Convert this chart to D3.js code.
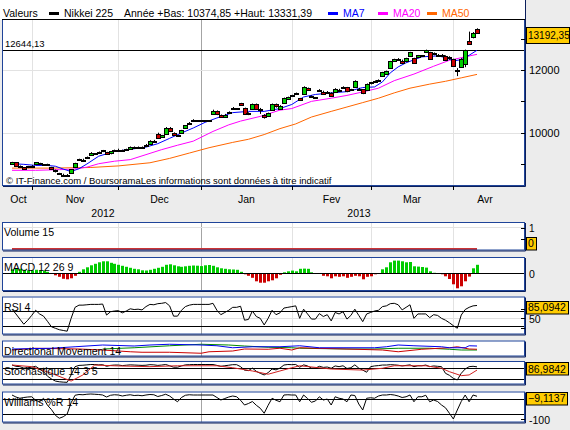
<!DOCTYPE html>
<html>
<head>
<meta charset="utf-8">
<script src="https://cdn.jsdelivr.net/npm/d3@7"></script>
<style>
  body { margin: 0; background: #ececec; }
  svg { display: block; font-family: "Liberation Sans", Arial, sans-serif; }
</style>
</head>
<body>
<svg id="chart" width="570" height="430"></svg>
<script>
// Nikkei 225 daily candles, 25 Oct 2012 -> 9 Apr 2013, one slot per weekday (holidays are flat)
var open = [8990,9050,8932,8895,8925,8930,9000,9020,8990,8990,
  8900,8800,8700,8662,8664,8700,8890,9150,9140,9220,
  9290,9366,9386,9440,9370,9330,9420,9460,9440,9450,
  9490,9540,9530,9528,9620,9650,9740,9970,9860,9970,
  10150,9990,9940,9980,10130,10320,10395,10395,10395,10395,
  10395,10604,10700,10560,10520,10650,10800,10801,10950,10780,
  10630,10760,10920,10750,10560,10520,10720,10900,10780,10950,
  11080,11190,11258,11100,11250,11420,11180,11153,11368,11300,
  11306,11280,11300,11370,11440,11450,11350,11480,11397,11380,
  11380,11560,11651,11682,11800,11880,12060,12290,12360,12300,
  12270,12440,12370,12400,12468,12580,12560,12520,12472,12492,
  12460,12420,12350,12004,12110,12180,12920,13070,13320];
var high = [9070,9060,8955,8905,8940,8965,9065,9040,9000,9010,
  8910,8820,8720,8690,8680,8840,9040,9170,9170,9240,
  9380,9366,9400,9450,9390,9410,9460,9490,9460,9490,
  9560,9560,9560,9560,9640,9760,9770,10000,9930,10180,
  10180,10010,9940,10090,10240,10340,10430,10395,10395,10395,
  10395,10734,10710,10580,10600,10680,10820,10801,10952,10800,
  10650,10930,10930,10790,10590,10640,10930,10930,10880,11120,
  11150,11210,11280,11110,11480,11440,11190,11153,11390,11340,
  11330,11290,11420,11400,11480,11460,11400,11670,11430,11390,
  11570,11620,11670,11700,11940,11980,12290,12360,12380,12330,
  12390,12580,12390,12480,12468,12650,12580,12560,12510,12510,
  12470,12440,12360,12060,12380,12650,13225,13210,13331.39];
var low = [8975,8920,8905,8810,8870,8905,8990,8985,8950,8955,
  8830,8730,8660,8620,8640,8690,8870,9110,9110,9190,
  9280,9366,9350,9380,9300,9310,9400,9440,9410,9420,
  9480,9510,9500,9510,9560,9640,9710,9820,9840,9960,
  10020,9900,9940,9970,10120,10280,10340,10395,10395,10395,
  10395,10580,10560,10490,10500,10620,10770,10801,10860,10590,
  10560,10740,10730,10600,10450,10500,10700,10800,10760,10940,
  11060,11150,11230,11030,11240,11340,11140,11153,11320,11230,
  11270,11160,11290,11340,11410,11290,11330,11470,11380,11230,
  11370,11540,11630,11640,11790,11870,12050,12270,12290,12200,
  12250,12430,12200,12380,12468,12560,12320,12470,12450,12470,
  12320,12330,12120,11805,12080,12090,12800,13010,13170];
var close = [9055,8933,8932,8820,8928,8946,9051,9007,8975,8972,
  8837,8757,8676,8661,8664,8830,9024,9153,9142,9222,
  9366,9366,9388,9423,9308,9400,9446,9458,9432,9468,
  9545,9527,9533,9525,9581,9743,9737,9828,9923,10160,
  10040,9940,9940,10080,10230,10322,10395,10395,10395,10395,
  10395,10688,10599,10508,10578,10652,10801,10801,10879,10600,
  10609,10913,10747,10709,10486,10620,10926,10824,10866,11113,
  11138,11191,11260,11046,11463,11357,11153,11153,11369,11251,
  11307,11173,11407,11372,11468,11309,11385,11662,11398,11254,
  11559,11606,11652,11683,11932,11968,12283,12349,12314,12239,
  12381,12560,12220,12468,12468,12635,12338,12546,12471,12493,
  12336,12397,12135,12003,12362,12634,12833,13192,13192.35];

// moving averages at some candles (candle index -> value)
var ma7At = [0,3,6,9,11,13,15,17,19,22,26,30,34,37,40,43,46,49,52,56,60,64,68,71,74,77,81,85,89,92,94,96,98,100,104,108,110,112,114,116,118];
var ma7 = [9010,8990,8955,8955,8930,8840,8760,8850,9000,9250,9400,9470,9540,9650,9820,9990,10150,10330,10470,10640,10680,10680,10770,10900,11140,11220,11270,11310,11440,11460,11620,11910,12100,12230,12420,12450,12400,12290,12330,12470,12630];
var ma20At = [0,6,12,16,19,22,26,30,34,38,42,46,51,55,58,63,68,71,76,81,85,89,93,97,102,107,111,115,118];
var ma20 = [8800,8800,8820,8840,8900,9010,9090,9140,9300,9460,9600,9730,10040,10250,10370,10520,10720,10770,11000,11100,11190,11300,11420,11660,11870,12120,12310,12420,12500];
var ma50At = [0,10,20,27,35,40,45,50,56,60,64,68,72,76,81,85,89,93,97,101,106,110,114,118];
var ma50 = [8870,8870,8890,8940,9040,9180,9350,9520,9690,9790,9940,10130,10280,10500,10680,10820,10960,11100,11270,11420,11550,11640,11750,11860];

// indicators, one value per candle
var macdHist = [40,45,45,35,30,30,35,30,25,15,
  -5,-20,-35,-55,-60,-50,-25,15,40,60,
  80,95,110,120,120,105,95,85,75,65,
  55,45,40,30,28,35,45,55,65,85,
  90,80,70,65,70,75,78,76,72,80,
  83,75,60,50,45,40,38,35,15,-10,
  -25,-45,-80,-94,-94,-80,-70,-50,-15,10,
  20,27,20,45,47,45,10,-5,-3,-25,
  -30,-50,-30,-35,-30,-45,-35,-25,-30,-60,
  -35,-30,-10,-3,40,60,110,127,127,120,
  110,113,70,67,63,57,20,5,-3,-10,
  -30,-57,-110,-150,-130,-80,-33,50,85];
var rsi4 = [75,62,48,34,45,58,72,62,56,42,
  27,23,19,17,15,50,80,86,86,87,
  88,88,88,89,59,68,70,71,65,70,
  76,74,75,73,82,88,87,90,91,93,
  84,56,56,72,82,86,88,88,88,88,
  88,91,72,60,66,72,80,80,83,45,
  47,70,55,50,32,50,72,60,65,78,
  80,82,84,50,75,62,48,48,63,55,
  60,43,66,62,68,48,58,75,58,41,
  62,66,70,72,82,84,90,91,87,73,
  80,87,50,62,62,62,52,60,58,50,
  45,38,30,23,59,74,80,84,85.0942];
var stochK = [97,90,88,80,82,85,90,75,60,35,
  20,8,4,2,1,42,88,95,96,98,
  100,100,98,99,90,95,97,97,94,96,
  98,97,96,95,96,99,98,95,97,100,
  93,85,85,92,98,99,100,100,100,100,
  100,100,95,90,93,96,99,99,88,69,
  66,80,62,51,42,55,75,70,80,97,
  100,99,100,85,98,92,80,80,90,84,
  86,79,92,88,93,78,82,98,80,69,
  57,88,92,94,97,97,99,98,96,92,
  95,98,88,93,93,97,88,92,90,88,
  51,40,23,14,51,75,88,90,86.9842];
var stochDAt = [0,5,10,15,18,21,27,35,42,52,56,61,65,68,71,73,81,89,94,97,105,109,111,114,116,118];
var stochD = [97,88,51,8,42,97,92,88,93,93,82,64,46,64,82,93,75,69,79,93,93,79,60,38,42,69];
var williamsR = [-4,-12,-17,-14,-12,-11,-25,-31,-17,-45,
  -62,-85,-97,-91,-80,-35,-5,-2,-3,-1,
  0,-1,-2,-4,-12,-5,-3,-4,-8,-5,
  -3,-6,-5,-7,-4,-2,-3,-10,-6,-1,
  -8,-20,-31,-14,-5,-3,-4,-4,-4,-4,
  -4,-4,-14,-24,-18,-12,-8,-11,-25,-44,
  -38,-30,-45,-57,-77,-45,-17,-25,-31,-4,
  -3,-4,-4,-31,-4,-18,-33,-28,-11,-24,
  -20,-44,-11,-17,-20,-31,-4,-6,-40,-64,
  -17,-15,-17,-8,-4,-4,-2,-4,-8,-14,
  -11,-4,-31,-11,-11,-5,-31,-24,-30,-44,
  -55,-77,-100,-64,-30,-4,-31,-4,-9.1137];
var dmiPlusAt = [0,10,16,23,31,35,40,48,52,56,61,68,73,78,84,92,95,98,102,109,111,115,116,118];
var dmiPlus = [28,31,37,44,40,44,47,44,41,33,37,37,41,33,33,33,37,44,41,37,33,33,41,40];
var dmiMinusAt = [0,6,17,23,30,33,40,48,50,56,59,65,68,71,73,77,85,94,98,104,111,113,116,118];
var dmiMinus = [24,31,28,24,17,15,15,11,17,20,28,27,31,24,33,31,28,24,17,27,33,37,28,27];
var adxAt = [23,31,40,48,55,59,65,71,73,85,92,98,106,111,114,118];
var adx = [28,33,41,47,44,40,35,33,31,28,28,31,31,27,24,24];
var volumeAt = [0, 118];
var volume15 = [0, 0];

// labels
var monthLabels = ["Oct", "Nov", "Dec", "Jan", "Fev", "Mar", "Avr"];
var yearLabels = ["2012", "2013"];
var priceTicks = [9000, 10000, 11000, 12000, 13000];
var priceLabels = [10000, 12000];
var refLevel = 12644.13;
var yearLow = 10374.85, yearHigh = 13331.39;

var svg = d3.select("#chart");
var X0 = 2, X1 = 525;

var days = d3.timeDay.range(new Date(2012, 9, 25), new Date(2013, 3, 10))
  .filter(function (d) { return d.getDay() % 6 != 0; });
var last = days.length - 1;

var x = d3.scaleLinear().domain([0, last]).range([12, 477]);

function comma(v, n) { return d3.format("." + n + "f")(v).replace(".", ","); }

var months = d3.timeMonth.range(new Date(2012, 9, 1), new Date(2013, 4, 1));
function slotOf(m) { return days.findIndex(function (d) { return d >= m; }); }
function monthX(m) { return m < days[0] ? 5 : Math.round(x(slotOf(m))); }

// panel background + month grid, returns a clipped group
function panel(id, top, bottom) {
  svg.append("rect").attr("x", X0).attr("y", top).attr("width", X1 - X0).attr("height", bottom - top)
    .attr("fill", "#fff");
  svg.append("clipPath").attr("id", id).append("rect")
    .attr("x", X0 + 1).attr("y", top + 1).attr("width", X1 - X0 - 1).attr("height", bottom - top - 1);
  var g = svg.append("g").attr("clip-path", "url(#" + id + ")");
  g.selectAll(null).data(months.slice(1)).enter().append("line")
    .attr("x1", function (m) { return monthX(m) + 0.5; })
    .attr("x2", function (m) { return monthX(m) + 0.5; })
    .attr("y1", top).attr("y2", bottom)
    .attr("stroke", function (m) { return m.getMonth() == 0 ? "#a4a4a4" : "#e2e2e2"; });
  return g;
}

function frame(top, bottom) {
  svg.append("rect").attr("x", X0 + 0.5).attr("y", top + 0.5).attr("width", X1 - X0 - 1).attr("height", bottom - top - 1)
    .attr("fill", "none").attr("stroke", "#1f4499");
  svg.append("path").attr("d", "M" + (X1 + 0.5) + "," + (top + 1) + "V" + (bottom + 0.5) + "H" + (X0 + 1))
    .attr("fill", "none").attr("stroke", "#0b1f5c");
}

function hline(g, y, color) {
  g.append("line").attr("x1", X0).attr("x2", X1).attr("y1", Math.round(y) + 0.5).attr("y2", Math.round(y) + 0.5)
    .attr("stroke", color);
}

function rightTicks(scale, values) {
  svg.selectAll(null).data(values).enter().append("line")
    .attr("x1", X1 - 4).attr("x2", X1)
    .attr("y1", function (d) { return Math.round(scale(d)) + 0.5; })
    .attr("y2", function (d) { return Math.round(scale(d)) + 0.5; })
    .attr("stroke", "#000");
}

function sideText(y, txt, size) {
  svg.append("text").attr("x", 529).attr("y", y).attr("font-size", size).text(txt);
}

function valueBox(top, h, txt, size, baseline) {
  var t = svg.append("text").attr("x", 528).attr("y", baseline).attr("font-size", size).text(txt);
  var w = t.node().getComputedTextLength();
  svg.insert("rect", function () { return t.node(); })
    .attr("x", 526.5).attr("y", Math.round(top) + 0.5).attr("width", Math.min(Math.round(w) + 4, 43)).attr("height", h)
    .attr("fill", "#ffcc00").attr("stroke", "#000");
}

function panelLabel(top, txt) {
  svg.append("text").attr("x", 4).attr("y", top + 14).attr("font-size", 10.6).text(txt);
}

function seriesLine(g, scale, xs, ys, color) {
  g.append("path").datum(d3.zip(xs, ys))
    .attr("fill", "none").attr("stroke", color).attr("stroke-width", 1)
    .attr("d", d3.line().x(function (d) { return x(d[0]); }).y(function (d) { return scale(d[1]); }));
}
var idx = d3.range(days.length);

// ---------- header ----------
svg.append("rect").attr("x", 0).attr("y", 0).attr("width", X1).attr("height", 20).attr("fill", "#fff");
svg.append("line").attr("x1", X1 + 0.5).attr("x2", X1 + 0.5).attr("y1", 0).attr("y2", 20).attr("stroke", "#0b1f5c");
var head = svg.append("g").attr("font-size", 10.5);
head.append("text").attr("x", 3).attr("y", 17).text("Valeurs");
head.append("rect").attr("x", 49).attr("y", 12).attr("width", 10).attr("height", 3).attr("fill", "#000");
head.append("text").attr("x", 64).attr("y", 17).text("Nikkei 225");
head.append("text").attr("x", 124).attr("y", 17)
  .text("Année +Bas: " + comma(yearLow, 2) + " +Haut: " + comma(yearHigh, 2));
[["MA7", "#0000ff", 328], ["MA20", "#ff00ff", 378], ["MA50", "#ff6600", 427]].forEach(function (l) {
  head.append("rect").attr("x", l[2]).attr("y", 12).attr("width", 10).attr("height", 3).attr("fill", l[1]);
  head.append("text").attr("x", l[2] + 15).attr("y", 17).attr("fill", l[1]).text(l[0]);
});

// ---------- main price panel ----------
var MT = 19, MB = 186;
var y = d3.scaleLinear().domain([8500, 13500]).range([179.7, 23.0]);
var gm = panel("clipMain", MT, MB);
priceLabels.forEach(function (v) { hline(gm, y(v), "#e2e2e2"); });
hline(gm, y(refLevel), "#000");

seriesLine(gm, y, ma50At, ma50, "#ff6600");
seriesLine(gm, y, ma20At, ma20, "#ff00ff");
seriesLine(gm, y, ma7At, ma7, "#0000ff");

var candle = gm.selectAll("g.c").data(idx).enter().append("g");
candle.append("line")
  .attr("x1", function (i) { return Math.round(x(i)) + 0.5; })
  .attr("x2", function (i) { return Math.round(x(i)) + 0.5; })
  .attr("y1", function (i) { return y(high[i]); })
  .attr("y2", function (i) { return y(low[i]); })
  .attr("stroke", "#000");
candle.append("rect")
  .attr("x", function (i) { return Math.round(x(i)) - 1.5; })
  .attr("width", 4)
  .attr("y", function (i) { return Math.round(y(Math.max(open[i], close[i]))) + 0.5; })
  .attr("height", function (i) { return Math.max(1, Math.round(Math.abs(y(open[i]) - y(close[i])))); })
  .attr("fill", function (i) { return close[i] > open[i] ? "#00cc00" : close[i] < open[i] ? "#cc0000" : "#000"; })
  .attr("stroke", "#000");

svg.append("text").attr("x", 5).attr("y", 46.5).attr("font-size", 9.5).text(comma(refLevel, 2));
svg.append("text").attr("x", 6).attr("y", 183.5).attr("font-size", 9.5)
  .text("© IT-Finance.com / BoursoramaLes informations sont données à titre indicatif");
frame(MT, MB);
svg.append("line").attr("x1", X0).attr("x2", X1).attr("y1", MT + 0.5).attr("y2", MT + 0.5).attr("stroke", "#000");

rightTicks(y, priceTicks);
priceLabels.forEach(function (v) { sideText(y(v) + 4, String(v), 11); });
var yl = y(close[last]);
valueBox(yl - 6, 16, comma(close[last], 2), 10, yl + 6.5);

// month axis
svg.selectAll(null).data(months.slice(1)).enter().append("line")
  .attr("x1", function (m) { return monthX(m) + 0.5; }).attr("x2", function (m) { return monthX(m) + 0.5; })
  .attr("y1", MB).attr("y2", MB + 4).attr("stroke", "#000");
svg.selectAll(null).data(months).enter().append("text")
  .attr("x", function (m, i) {
    var a = monthX(m), b = i < months.length - 1 ? monthX(months[i + 1]) : 517;
    return (a + b) / 2;
  })
  .attr("y", 203).attr("text-anchor", "middle").attr("font-size", 10.5)
  .text(function (m, i) { return monthLabels[i]; });
var yearStart = months.find(function (m) { return m.getMonth() == 0; });
svg.selectAll(null).data(yearLabels).enter().append("text")
  .attr("x", function (t, i) { return i == 0 ? (5 + monthX(yearStart)) / 2 : (monthX(yearStart) + 517) / 2; })
  .attr("y", 216.5).attr("text-anchor", "middle").attr("font-size", 10.5)
  .text(function (t) { return t; });

// ---------- volume ----------
var VT = 222, VB = 250.5;
var yv = d3.scaleLinear().domain([0, 1]).range([249, 228.3]);
var gv = panel("clipVol", VT, VB);
hline(gv, yv(1) - 1, "#e2e2e2");
gv.append("path").datum(d3.zip(volumeAt, volume15))
  .attr("fill", "none").attr("stroke", "#cc3333").attr("stroke-width", 2)
  .attr("d", d3.line().x(function (d) { return x(d[0]); }).y(function (d) { return yv(d[1]); }));
panelLabel(VT, "Volume 15");
frame(VT, VB);
rightTicks(yv, [0.5, 1]);
sideText(yv(1) + 3.5, "1", 10);
valueBox(VB - 14, 12.5, String(volume15[volume15.length - 1]), 10.5, VB - 4);

// ---------- MACD ----------
var CT = 257, CB = 291;
var yc = d3.scaleLinear().domain([-170, 170]).range([290.3, 256.3]);
var gc = panel("clipMacd", CT, CB);
gc.selectAll("rect.b").data(idx).enter().append("rect")
  .attr("x", function (i) { return Math.round(x(i)) - 1; })
  .attr("width", 3)
  .attr("y", function (i) { return Math.min(yc(0), yc(macdHist[i])); })
  .attr("height", function (i) { return Math.abs(yc(macdHist[i]) - yc(0)); })
  .attr("fill", function (i) { return macdHist[i] >= 0 ? "#00cc00" : "#cc0000"; });
hline(gc, yc(0), "#000");
panelLabel(CT, "MACD 12 26 9");
frame(CT, CB);
sideText(yc(0) + 4.5, "0", 10.5);

// ---------- RSI ----------
var RT = 296.5, RB = 334.5;
var yr = d3.scaleLinear().domain([0, 100]).range([336.7, 300]);
var gr = panel("clipRsi", RT, RB);
hline(gr, yr(50), "#e2e2e2");
hline(gr, yr(70), "#000");
hline(gr, yr(30), "#000");
seriesLine(gr, yr, idx, rsi4, "#000");
panelLabel(RT, "RSI 4");
frame(RT, RB);
rightTicks(yr, [25, 50, 75]);
sideText(yr(50) + 5, "50", 10.5);
var yrl = yr(rsi4[last]);
valueBox(yrl - 4, 12.5, comma(rsi4[last], 4), 10.5, yrl + 6);

// ---------- Directional movement ----------
var DT = 340.5, DB = 356.5;
var yd = d3.scaleLinear().domain([0, 60]).range([356, 341]);
var gd = panel("clipDmi", DT, DB);
panelLabel(DT, "Directional Movement 14");
seriesLine(gd, yd, adxAt, adx, "#008800");
seriesLine(gd, yd, dmiMinusAt, dmiMinus, "#cc0000");
seriesLine(gd, yd, dmiPlusAt, dmiPlus, "#0000ee");
frame(DT, DB);

// ---------- Stochastic ----------
var ST = 361, SB = 384.5;
var ys = d3.scaleLinear().domain([0, 100]).range([382.5, 364.5]);
var gs = panel("clipSto", ST, SB);
hline(gs, ys(80), "#000");
hline(gs, ys(20), "#000");
panelLabel(ST, "Stochastique 14 3 5");
seriesLine(gs, ys, idx, stochK, "#000");
seriesLine(gs, ys, stochDAt, stochD, "#d02020");
frame(ST, SB);
var ysl = ys(stochK[last]);
valueBox(ysl - 4.5, 12.5, comma(stochK[last], 4), 10.5, ysl + 6);

// ---------- Williams %R ----------
var WT = 391.5, WB = 422.5;
var yw = d3.scaleLinear().domain([-100, 0]).range([419, 394]);
var gw = panel("clipWil", WT, WB);
hline(gw, yw(-20), "#000");
hline(gw, yw(-80), "#000");
panelLabel(WT, "Williams %R 14");
seriesLine(gw, yw, idx, williamsR, "#000");
frame(WT, WB);
rightTicks(yw, [-100]);
sideText(yw(-100) + 5, "-100", 10.5);
var ywl = yw(williamsR[last]);
valueBox(ywl - 4, 12.5, comma(williamsR[last], 4), 10.5, ywl + 6);
</script>
</body>
</html>
